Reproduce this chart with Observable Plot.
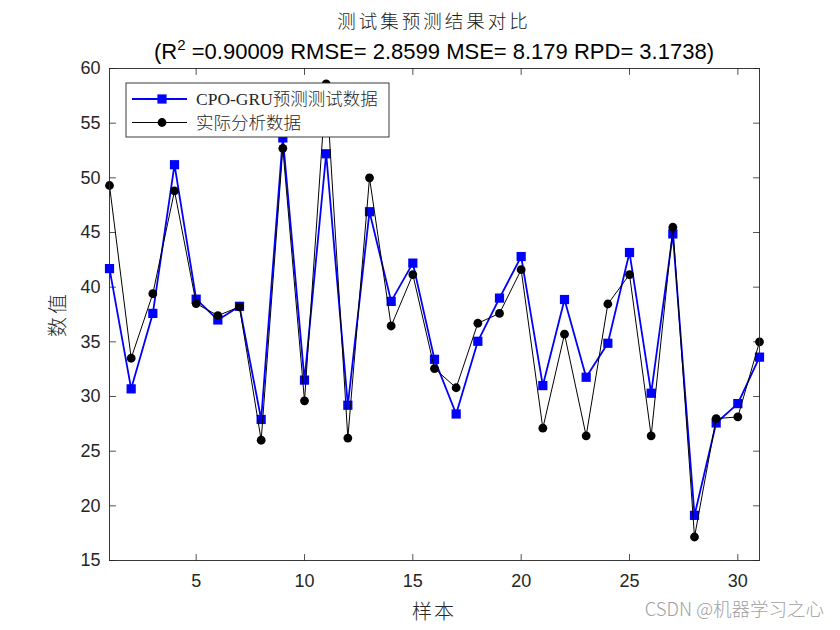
<!DOCTYPE html>
<html>
<head>
<meta charset="utf-8">
<script src="https://cdn.jsdelivr.net/npm/d3@7"></script>
<script src="https://cdn.jsdelivr.net/npm/@observablehq/plot@0.6"></script>
<style>
  html, body { margin: 0; padding: 0; background: #fff; }
  svg { display: block; }
</style>
</head>
<body>
<div id="chart"></div>
<script>
// ---- data ----
const samples = d3.range(1, 32);
const predicted = [41.7, 30.7, 37.6, 51.2, 38.9, 37.0, 38.25, 27.9, 53.65, 31.5,
  52.2, 29.2, 46.9, 38.7, 42.2, 33.4, 28.4, 35.05, 39.0, 42.8,
  31.0, 38.87, 31.76, 34.87, 43.17, 30.3, 44.87, 19.13, 27.58, 29.35, 33.6];
const actual = [49.3, 33.5, 39.4, 48.8, 38.5, 37.4, 38.2, 26.0, 52.7, 29.6,
  58.6, 26.2, 50.0, 36.45, 41.15, 32.55, 30.8, 36.7, 37.6, 41.6,
  27.1, 35.7, 26.4, 38.46, 41.15, 26.4, 45.48, 17.15, 27.98, 28.13, 35.0];
const xTicks = [5, 10, 15, 20, 25, 30];
const yTicks = [15, 20, 25, 30, 35, 40, 45, 50, 55, 60];
const seriesNames = ["CPO-GRU预测测试数据", "实际分析数据"];
const titleText = "测试集预测结果对比";
const metrics = {R2: "0.90009", RMSE: "2.8599", MSE: "8.179", RPD: "3.1738"};
const xLabel = "样本";
const yLabel = "数值";

const predRows = samples.map((s, i) => ({x: s, y: predicted[i]}));
const actRows = samples.map((s, i) => ({x: s, y: actual[i]}));

const axisColor = "#262626";
const tickShape = {draw(context, l) { context.moveTo(0, 0); context.lineTo(0, -l); }};
const tickLen = 6;
const sansFont = "'Liberation Sans', Arial, Helvetica, sans-serif";

const W = 840, H = 630;
const mTop = 68, mLeft = 109, mRight = 81, mBottom = 70;

const plot = Plot.plot({
  width: W,
  height: H,
  marginTop: mTop,
  marginLeft: mLeft,
  marginRight: mRight,
  marginBottom: mBottom,
  style: {fontFamily: sansFont, background: "#fff", color: axisColor},
  x: {domain: [1, 31]},
  y: {domain: [15, 60]},
  marks: [
    Plot.axisX(xTicks, {tickSize: 0, tickPadding: 14, fontSize: 18, label: null, fill: axisColor}),
    Plot.axisY(yTicks, {tickSize: 0, tickPadding: 9, fontSize: 18, label: null, fill: axisColor}),
    // inward ticks on all four sides
    Plot.vector(xTicks, {x: d => d, frameAnchor: "bottom", length: tickLen, rotate: 0, anchor: "start", shape: tickShape, stroke: axisColor, strokeWidth: 0.8}),
    Plot.vector(xTicks, {x: d => d, frameAnchor: "top", length: tickLen, rotate: 180, anchor: "start", shape: tickShape, stroke: axisColor, strokeWidth: 0.8}),
    Plot.vector(yTicks, {y: d => d, frameAnchor: "left", length: tickLen, rotate: 90, anchor: "start", shape: tickShape, stroke: axisColor, strokeWidth: 0.8}),
    Plot.vector(yTicks, {y: d => d, frameAnchor: "right", length: tickLen, rotate: -90, anchor: "start", shape: tickShape, stroke: axisColor, strokeWidth: 0.8}),
    Plot.line(predRows, {x: "x", y: "y", stroke: "#0000ff", strokeWidth: 1.8}),
    Plot.dot(predRows, {x: "x", y: "y", symbol: "square", r: 5.2, fill: "#0000ff", stroke: "none"}),
    Plot.line(actRows, {x: "x", y: "y", stroke: "#000", strokeWidth: 1}),
    Plot.dot(actRows, {x: "x", y: "y", symbol: "circle", r: 4.4, fill: "#000", stroke: "none"}),
    Plot.frame({stroke: axisColor, strokeWidth: 0.9})
  ]
});

document.getElementById("chart").appendChild(plot);

// ---- annotations (title, axis labels, legend, watermark) ----
const svg = d3.select(plot);
const cx = mLeft + (W - mLeft - mRight) / 2;
const cjk = "'Noto Sans CJK SC', 'Noto Sans', sans-serif";

svg.append("text")
  .attr("x", cx).attr("y", 28)
  .attr("text-anchor", "middle")
  .style("font-family", cjk).style("font-size", "18.5px").style("font-weight", 300)
  .style("letter-spacing", "3px")
  .attr("fill", "#1a1a1a")
  .text(titleText);

const sub = svg.append("text")
  .attr("x", cx).attr("y", 59)
  .attr("text-anchor", "middle")
  .style("font-family", sansFont).style("font-size", "22px")
  .attr("fill", "#000");
sub.append("tspan").text("(R");
sub.append("tspan").attr("dy", -9).style("font-size", "15px").text("2");
sub.append("tspan").attr("dy", 9).text(` =${metrics.R2} RMSE= ${metrics.RMSE} MSE= ${metrics.MSE} RPD= ${metrics.RPD})`);

svg.append("text")
  .attr("x", cx).attr("y", 619)
  .attr("text-anchor", "middle")
  .style("font-family", cjk).style("font-size", "20px").style("font-weight", 300)
  .style("letter-spacing", "2px")
  .attr("fill", axisColor)
  .text(xLabel);

svg.append("text")
  .attr("transform", `translate(65, ${mTop + (H - mTop - mBottom) / 2}) rotate(-90)`)
  .attr("text-anchor", "middle")
  .style("font-family", cjk).style("font-size", "20px").style("font-weight", 300)
  .style("letter-spacing", "3px")
  .attr("fill", axisColor)
  .text(yLabel);

// legend
const lg = svg.append("g").attr("transform", `translate(${mLeft + 17}, ${mTop + 15})`);
lg.append("rect").attr("width", 263).attr("height", 54)
  .attr("fill", "#fff").attr("stroke", axisColor).attr("stroke-width", 0.9);
const legendItems = [
  {name: seriesNames[0], color: "#0000ff", sym: "square", lw: 1.8},
  {name: seriesNames[1], color: "#000", sym: "circle", lw: 1}
];
legendItems.forEach((it, i) => {
  const yy = 16 + i * 23.5;
  lg.append("line").attr("x1", 6).attr("x2", 61).attr("y1", yy).attr("y2", yy)
    .attr("stroke", it.color).attr("stroke-width", it.lw);
  if (it.sym === "square") {
    lg.append("rect").attr("x", 36 - 4.6).attr("y", yy - 4.6).attr("width", 9.2).attr("height", 9.2).attr("fill", it.color);
  } else {
    lg.append("circle").attr("cx", 36).attr("cy", yy).attr("r", 4.4).attr("fill", it.color);
  }
  lg.append("text").attr("x", 70).attr("y", yy).attr("dy", "0.36em")
    .attr("text-anchor", "start")
    .style("font-family", "'Liberation Serif', 'Times New Roman', 'Noto Sans CJK SC', serif")
    .style("font-size", "17.5px").style("font-weight", 300)
    .attr("fill", axisColor)
    .text(it.name);
});

// watermark
svg.append("text")
  .attr("x", 824).attr("y", 616)
  .attr("text-anchor", "end")
  .style("font-family", cjk).style("font-size", "18.5px").style("font-weight", 300)
  .attr("fill", "#a0a0a0")
  .text("CSDN @机器学习之心");
</script>
</body>
</html>
